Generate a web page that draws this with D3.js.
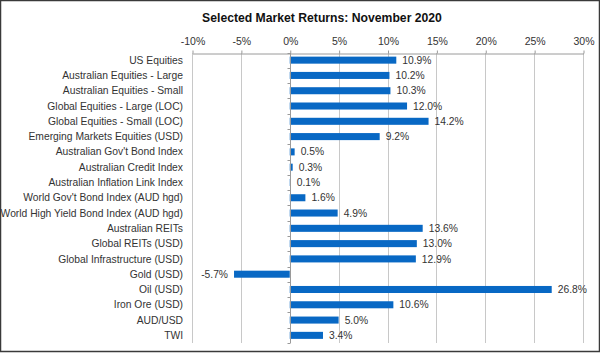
<!DOCTYPE html>
<html>
<head>
<meta charset="utf-8">
<script src="https://cdn.jsdelivr.net/npm/d3@7"></script>
<style>
  html, body { margin: 0; padding: 0; background: #fff; }
  svg { display: block; font-family: "Liberation Sans", Arial, sans-serif; }
</style>
</head>
<body>
<div id="chart"></div>
<script>
// categories and returns (%)
const categories = [
  "US Equities",
  "Australian Equities - Large",
  "Australian Equities - Small",
  "Global Equities - Large (LOC)",
  "Global Equities - Small (LOC)",
  "Emerging Markets Equities (USD)",
  "Australian Gov't Bond Index",
  "Australian Credit Index",
  "Australian Inflation Link Index",
  "World Gov't Bond Index (AUD hgd)",
  "World High Yield Bond Index (AUD hgd)",
  "Australian REITs",
  "Global REITs (USD)",
  "Global Infrastructure (USD)",
  "Gold (USD)",
  "Oil (USD)",
  "Iron Ore (USD)",
  "AUD/USD",
  "TWI"
];
const returns = [10.9, 10.2, 10.3, 12.0, 14.2, 9.2, 0.5, 0.3, 0.1, 1.6, 4.9, 13.6, 13.0, 12.9, -5.7, 26.8, 10.6, 5.0, 3.4];
const tickValues = [-10, -5, 0, 5, 10, 15, 20, 25, 30];

const width = 600;
const height = 353;
const margin = { top: 53, right: 17, bottom: 10, left: 192 };
const plotBottom = 343;

const svg = d3.select("#chart")
  .append("svg")
  .attr("width", width)
  .attr("height", height);

// outer frame
svg.append("rect")
  .attr("x", 0.5).attr("y", 0.5)
  .attr("width", width - 1).attr("height", height - 2)
  .attr("fill", "#fff")
  .attr("stroke", "#3a3a3a")
  .attr("stroke-width", 1.5);

// title
svg.append("text")
  .attr("x", 322)
  .attr("y", 22)
  .attr("text-anchor", "middle")
  .style("font-size", "12.2px")
  .style("font-weight", "bold")
  .style("fill", "#111")
  .text("Selected Market Returns: November 2020");

const x = d3.scaleLinear()
  .domain([-10, 30])
  .range([margin.left, width - margin.right]);

const y = d3.scaleBand()
  .domain(categories)
  .range([margin.top - 0.5, plotBottom])
  .paddingInner(0.54)
  .paddingOuter(0.27);

// gridlines
svg.append("g")
  .selectAll("line")
  .data(tickValues)
  .join("line")
  .attr("x1", d => Math.round(x(d)) + 0.5)
  .attr("x2", d => Math.round(x(d)) + 0.5)
  .attr("y1", margin.top)
  .attr("y2", plotBottom)
  .attr("stroke", "#c8c8c8")
  .attr("stroke-width", 1);

// top axis
const xAxis = d3.axisTop(x)
  .tickValues(tickValues)
  .tickFormat(d => d + "%")
  .tickSize(3)
  .tickSizeOuter(0);

const axisG = svg.append("g")
  .attr("transform", `translate(0.5,${margin.top + 0.5})`)
  .call(xAxis);
axisG.select(".domain").attr("stroke", "#9a9a9a");
axisG.selectAll(".tick line").attr("stroke", "#9a9a9a");
axisG.selectAll(".tick text")
  .attr("y", -9)
  .style("font-size", "10.5px")
  .style("fill", "#333")
  .style("font-family", "'Liberation Sans', Arial, sans-serif");

// bars
svg.append("g")
  .selectAll("rect")
  .data(returns)
  .join("rect")
  .attr("x", d => x(Math.min(0, d)))
  .attr("y", (d, i) => y(categories[i]))
  .attr("width", d => Math.abs(x(d) - x(0)))
  .attr("height", y.bandwidth())
  .attr("fill", "#0868c4");

// vertical axis at 0 with category ticks
const step = y.step();
const boundaries = d3.range(categories.length + 1).map(i => margin.top - 0.5 + i * step);
const zeroX = Math.round(x(0)) + 0.5;
svg.append("line")
  .attr("x1", zeroX).attr("x2", zeroX)
  .attr("y1", margin.top).attr("y2", plotBottom)
  .attr("stroke", "#9a9a9a");
svg.append("g")
  .selectAll("line")
  .data(boundaries)
  .join("line")
  .attr("x1", zeroX - 3).attr("x2", zeroX)
  .attr("y1", d => Math.round(d) + 0.5)
  .attr("y2", d => Math.round(d) + 0.5)
  .attr("stroke", "#9a9a9a");

// category labels
svg.append("g")
  .selectAll("text")
  .data(categories)
  .join("text")
  .attr("x", 183)
  .attr("y", d => y(d) + y.bandwidth() / 2)
  .attr("dy", "0.35em")
  .attr("text-anchor", "end")
  .style("font-size", "10.3px")
  .style("fill", "#333")
  .text(d => d);

// value labels
svg.append("g")
  .selectAll("text")
  .data(returns)
  .join("text")
  .attr("x", d => d >= 0 ? x(d) + 6 : x(d) - 6)
  .attr("y", (d, i) => y(categories[i]) + y.bandwidth() / 2)
  .attr("dy", "0.35em")
  .attr("text-anchor", d => d >= 0 ? "start" : "end")
  .style("font-size", "10.3px")
  .style("fill", "#333")
  .text(d => d.toFixed(1) + "%");
</script>
</body>
</html>
